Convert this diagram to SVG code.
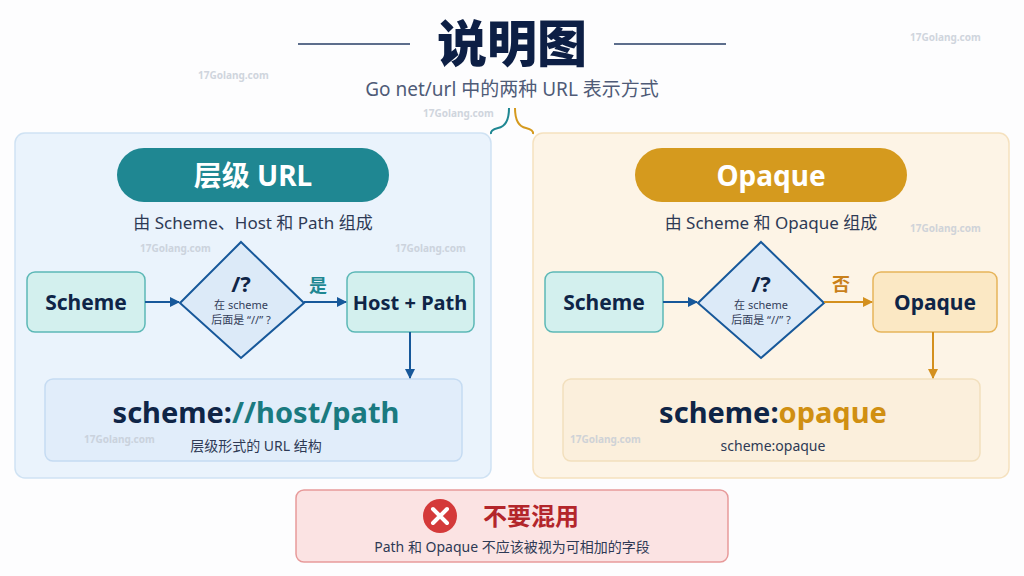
<svg xmlns="http://www.w3.org/2000/svg" width="1024" height="576" viewBox="0 0 1024 576">
<defs>
<style>
text{font-family:"Noto Sans","Noto Sans CJK SC",sans-serif}
.wm{font-size:10px;font-weight:bold;fill:#c5ccd6}
.node{font-size:21px;font-weight:bold;fill:#0f2547}
.small{font-size:11px;fill:#34405a}
</style>
<marker id="ab" viewBox="0 0 10 10" refX="9" refY="5" markerWidth="5" markerHeight="5" orient="auto"><path d="M0,0L10,5L0,10z" fill="#17589a"/></marker>
<marker id="ao" viewBox="0 0 10 10" refX="9" refY="5" markerWidth="5" markerHeight="5" orient="auto"><path d="M0,0L10,5L0,10z" fill="#d4901e"/></marker>
</defs>
<rect width="1024" height="576" fill="#fdfdfe"/>
<g id="title">
<line x1="298" y1="44" x2="410" y2="44" stroke="#5d6e8c" stroke-width="2"/>
<line x1="614" y1="44" x2="726" y2="44" stroke="#5d6e8c" stroke-width="2"/>
<text x="512" y="62" text-anchor="middle" font-size="50" font-weight="900" fill="#0d1f45">说明图</text>
<text x="512" y="96" text-anchor="middle" font-size="19" fill="#4f5b77">Go net/url 中的两种 URL 表示方式</text>
</g>
<g id="left-panel">
<rect x="15" y="133" width="476" height="345" rx="10" fill="#eaf3fc" stroke="#cfe2f3" stroke-width="1.5"/>
<rect x="117" y="148" width="272" height="54" rx="27" fill="#1f8792"/>
<text x="253" y="186" text-anchor="middle" font-size="28" font-weight="bold" fill="#fff">层级 URL</text>
<text x="253" y="229" text-anchor="middle" font-size="17" fill="#2e3a55">由 Scheme、Host 和 Path 组成</text>
</g>
<g id="right-panel">
<rect x="533" y="133" width="476" height="345" rx="10" fill="#fdf4e6" stroke="#f5e1bf" stroke-width="1.5"/>
<rect x="635" y="148" width="272" height="54" rx="27" fill="#d59a1e"/>
<text x="771" y="186" text-anchor="middle" font-size="28" font-weight="bold" fill="#fff">Opaque</text>
<text x="771" y="229" text-anchor="middle" font-size="17" fill="#2e3a55">由 Scheme 和 Opaque 组成</text>
</g>
<g id="l-scheme"><rect x="27" y="272" width="118" height="60" rx="8" fill="#d3f0ee" stroke="#5cb8b6" stroke-width="1.5"/><text x="86" y="310" text-anchor="middle" class="node">Scheme</text></g>
<g id="l-dec"><path d="M241,242L304,303L241,358L180,303z" fill="#dceaf8" stroke="#17589a" stroke-width="2"/>
<text x="241" y="292" text-anchor="middle" font-size="22" font-weight="bold" fill="#0f2547">/?</text>
<text x="241" y="309" text-anchor="middle" class="small">在 scheme</text>
<text x="241" y="324" text-anchor="middle" class="small">后面是 “//” ?</text></g>
<g id="l-host"><rect x="347" y="272" width="127" height="60" rx="8" fill="#d3f0ee" stroke="#5cb8b6" stroke-width="1.5"/><text x="410" y="310" text-anchor="middle" font-size="20" font-weight="bold" fill="#0f2547">Host + Path</text></g>
<g id="l-result"><rect x="45" y="379" width="417" height="82" rx="8" fill="#e1edfa" stroke="#c5dbf2" stroke-width="1.5"/>
<text x="256" y="423" text-anchor="middle" font-size="29" font-weight="bold" fill="#0f2547">scheme:<tspan fill="#1a7a80">//host/path</tspan></text>
<text x="256" y="451" text-anchor="middle" font-size="14" fill="#2e3a55">层级形式的 URL 结构</text></g>
<g id="r-scheme"><rect x="545" y="272" width="118" height="60" rx="8" fill="#d3f0ee" stroke="#5cb8b6" stroke-width="1.5"/><text x="604" y="310" text-anchor="middle" class="node">Scheme</text></g>
<g id="r-dec"><path d="M761,242L824,303L761,358L698,303z" fill="#dceaf8" stroke="#17589a" stroke-width="2"/>
<text x="761" y="292" text-anchor="middle" font-size="22" font-weight="bold" fill="#0f2547">/?</text>
<text x="761" y="309" text-anchor="middle" class="small">在 scheme</text>
<text x="761" y="324" text-anchor="middle" class="small">后面是 “//” ?</text></g>
<g id="r-opaque"><rect x="873" y="272" width="124" height="60" rx="8" fill="#fbe8c4" stroke="#e6b45a" stroke-width="1.5"/><text x="935" y="310" text-anchor="middle" class="node">Opaque</text></g>
<g id="r-result"><rect x="563" y="379" width="417" height="82" rx="8" fill="#fbefdc" stroke="#f2dfbd" stroke-width="1.5"/>
<text x="773" y="423" text-anchor="middle" font-size="29" font-weight="bold" fill="#0f2547">scheme:<tspan fill="#d08f12">opaque</tspan></text>
<text x="773" y="451" text-anchor="middle" font-size="14" fill="#2e3a55">scheme:opaque</text></g>
<g id="warning"><rect x="296" y="490" width="432" height="72" rx="8" fill="#fbe3e3" stroke="#e79a9a" stroke-width="1.5"/>
<circle cx="440" cy="516" r="17" fill="#d43a3a"/>
<path d="M433,509L447,523M447,509L433,523" stroke="#fff" stroke-width="4" stroke-linecap="round"/>
<text x="483" y="525" font-size="24" font-weight="bold" fill="#b3262b">不要混用</text>
<text x="512" y="552" text-anchor="middle" font-size="14" fill="#2e3a55">Path 和 Opaque 不应该被视为可相加的字段</text></g>
<g id="connectors" fill="none">
<path d="M509,108Q509,126 498,128Q490,130 491,134" stroke="#1f8792" stroke-width="2"/>
<path d="M515,108Q515,126 526,128Q534,130 533,134" stroke="#d59a1e" stroke-width="2"/>
<line x1="145" y1="302" x2="179" y2="302" stroke="#17589a" stroke-width="2" marker-end="url(#ab)"/>
<line x1="304" y1="302" x2="346" y2="302" stroke="#17589a" stroke-width="2" marker-end="url(#ab)"/>
<text x="318" y="292" text-anchor="middle" font-size="18" font-weight="bold" fill="#1f8792">是</text>
<line x1="410" y1="332" x2="410" y2="378" stroke="#17589a" stroke-width="2" marker-end="url(#ab)"/>
<line x1="663" y1="302" x2="697" y2="302" stroke="#17589a" stroke-width="2" marker-end="url(#ab)"/>
<line x1="824" y1="302" x2="872" y2="302" stroke="#d4901e" stroke-width="2" marker-end="url(#ao)"/>
<text x="841" y="291" text-anchor="middle" font-size="18" font-weight="bold" fill="#c9801a">否</text>
<line x1="933" y1="332" x2="933" y2="378" stroke="#d4901e" stroke-width="2" marker-end="url(#ao)"/>
</g>
<g id="watermarks" opacity="0.8">
<text x="198" y="79" class="wm">17Golang.com</text>
<text x="423" y="117" class="wm">17Golang.com</text>
<text x="910" y="41" class="wm">17Golang.com</text>
<text x="140" y="252" class="wm">17Golang.com</text>
<text x="395" y="252" class="wm">17Golang.com</text>
<text x="910" y="232" class="wm">17Golang.com</text>
<text x="84" y="443" class="wm">17Golang.com</text>
<text x="570" y="443" class="wm">17Golang.com</text>
</g>
</svg>
